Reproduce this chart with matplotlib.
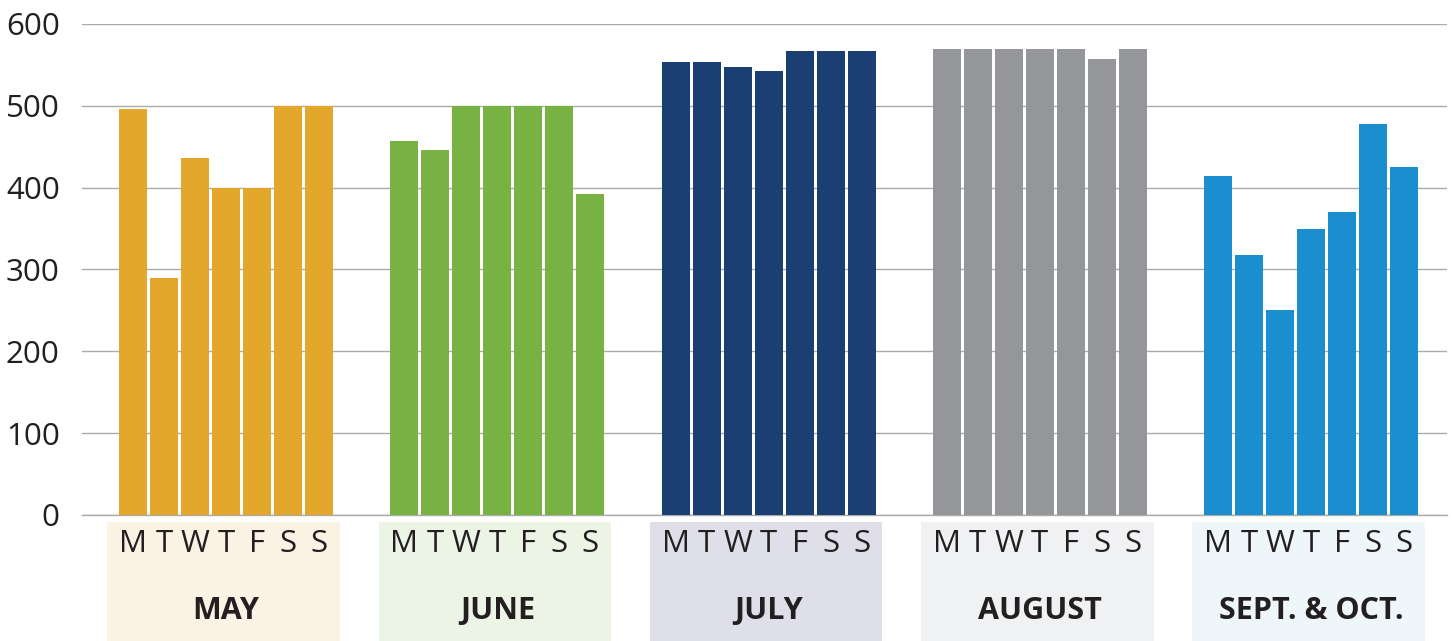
import numpy as np
import matplotlib
matplotlib.use("Agg")
from matplotlib import pyplot as plt
from matplotlib import transforms

plt.rcParams['font.family'] = ['Open Sans', 'DejaVu Sans']

# данные
months = ["MAY", "JUNE", "JULY", "AUGUST", "SEPT. & OCT."]
days = ["M", "T", "W", "T", "F", "S", "S"]
may = [496, 289, 436, 400, 400, 500, 500]
june = [457, 446, 500, 500, 500, 500, 392]
july = [553, 554, 548, 543, 567, 567, 567]
august = [570, 570, 570, 570, 570, 557, 570]
sept_oct = [414, 318, 251, 350, 370, 478, 425]
values = [may, june, july, august, sept_oct]

bar_colors = ["#E3A82B", "#77B243", "#1C3F73", "#959699", "#1A8ECE"]
box_colors = ["#FAF2E3", "#ECF4E6", "#DFDFEA", "#F0F1F3", "#EEF6FA"]
step = 8.75

fig = plt.figure(figsize=(14.52, 6.41), dpi=100)
ax = fig.add_axes([0.0565, 0.1966, 0.9401, 0.766])

trans = transforms.blended_transform_factory(ax.transData, ax.transAxes)
for g, vals in enumerate(values):
    x = g * step + np.arange(len(vals))
    ax.bar(x, vals, width=0.9, color=bar_colors[g], zorder=3)
    # подложка под подписи
    ax.add_patch(plt.Rectangle((g * step - 0.83, -0.26), 7.5, 0.246, transform=trans,
                               facecolor=box_colors[g], edgecolor="none", clip_on=False))
    for i, d in enumerate(days):
        ax.text(x[i], -0.059, d, transform=trans, ha="center", va="center",
                fontsize=22.5, color="#231F20")
    ax.text(g * step + 3, -0.1955, months[g], transform=trans, ha="center", va="center",
            fontsize=22, fontweight="bold", color="#231F20")

ax.set_xlim(-1.65, 4 * step + 6 + 1.39)
ax.set_ylim(0, 600)
ax.set_yticks(np.arange(0, 601, 100))
ax.tick_params(axis="y", length=0, labelsize=22.5, labelcolor="#231F20", pad=16)
ax.set_xticks([])
ax.grid(axis="y", color="#ABABAB", linewidth=1, zorder=0)
for s in ["top", "right", "left"]:
    ax.spines[s].set_visible(False)
ax.spines["bottom"].set_color("#ABABAB")
ax.spines["bottom"].set_linewidth(1)

fig.savefig("out.png", dpi=100)
